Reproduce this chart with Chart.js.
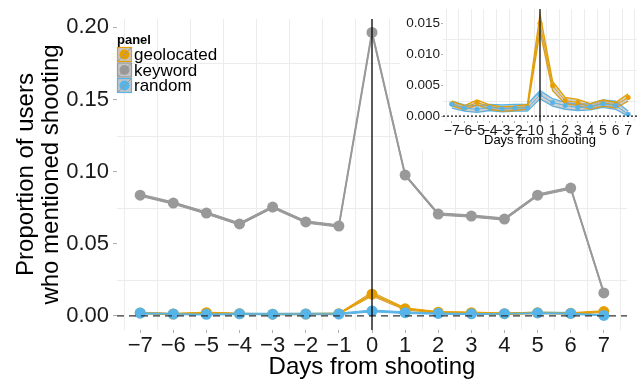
<!DOCTYPE html>
<html>
<head>
<meta charset="utf-8">
<script src="https://cdn.jsdelivr.net/npm/chart.js@4.4.0/dist/chart.umd.min.js"></script>
<style>
  html, body { margin: 0; padding: 0; background: #fff; }
  #wrap { position: relative; width: 643px; height: 383px; overflow: hidden; }
  #main { position: absolute; left: 0; top: 0; }
  #inset { position: absolute; left: 400px; top: 0; }
</style>
</head>
<body>
<div id="wrap">
  <canvas id="main" width="643" height="383"></canvas>
  <canvas id="inset" width="243" height="150"></canvas>
</div>
<script>
// Days relative to the shooting
const days = [-7, -6, -5, -4, -3, -2, -1, 0, 1, 2, 3, 4, 5, 6, 7];

// keyword panel
const keyword      = [0.0837, 0.0782, 0.0713, 0.0637, 0.0754, 0.0651, 0.0623, 0.1965, 0.0976, 0.0706, 0.0692, 0.0671, 0.0837, 0.0886, 0.0159];
const keywordUpper = [0.0845, 0.0790, 0.0721, 0.0645, 0.0762, 0.0659, 0.0631, 0.1973, 0.0984, 0.0714, 0.0700, 0.0679, 0.0845, 0.0894, 0.0167];
const keywordLower = [0.0829, 0.0774, 0.0705, 0.0629, 0.0746, 0.0643, 0.0615, 0.1957, 0.0968, 0.0698, 0.0684, 0.0663, 0.0829, 0.0878, 0.0151];

// geolocated panel
const geolocated = [0.0020, 0.0013, 0.0022, 0.0015, 0.0012, 0.0013, 0.0015, 0.0150, 0.0049, 0.0025, 0.0022, 0.0015, 0.0021, 0.0018, 0.0030];
const geoUpper   = [0.0024, 0.0017, 0.0026, 0.0018, 0.0015, 0.0016, 0.0019, 0.0165, 0.0056, 0.0030, 0.0027, 0.0020, 0.0026, 0.0022, 0.0036];
const geoLower   = [0.0017, 0.0010, 0.0018, 0.0011, 0.0008, 0.0009, 0.0011, 0.0137, 0.0041, 0.0020, 0.0017, 0.0011, 0.0016, 0.0013, 0.0024];

// random panel
const random     = [0.0019, 0.0013, 0.0011, 0.0014, 0.0012, 0.0013, 0.0013, 0.0034, 0.0022, 0.0017, 0.0014, 0.0015, 0.0020, 0.0017, 0.0003];
const randUpper  = [0.0024, 0.0018, 0.0017, 0.0019, 0.0018, 0.0019, 0.0019, 0.0041, 0.0028, 0.0022, 0.0019, 0.0020, 0.0026, 0.0024, 0.0008];
const randLower  = [0.0013, 0.0008, 0.0006, 0.0009, 0.0007, 0.0008, 0.0008, 0.0028, 0.0016, 0.0011, 0.0009, 0.0010, 0.0014, 0.0011, 0.0000];

// tick labels / minor grid
const mainYTicks  = [0, 0.05, 0.10, 0.15, 0.20];
const mainYMinor  = [0.025, 0.075, 0.125, 0.175];
const insetYTicks = [0, 0.005, 0.010, 0.015];
const insetYMinor = [0.0025, 0.0075, 0.0125];
const xMinor = [-7.5, -6.5, -5.5, -4.5, -3.5, -2.5, -1.5, -0.5, 0.5, 1.5, 2.5, 3.5, 4.5, 5.5, 6.5, 7.5];

const legendLabels = ['geolocated', 'keyword', 'random'];
const colors = { geolocated: '#E69F00', keyword: '#999999', random: '#56B4E9' };
const ribbonFill = 'rgba(153,153,153,0.45)';

Chart.defaults.font.family = "'Liberation Sans', Arial, sans-serif";
Chart.defaults.color = '#1a1a1a';

const pts = vals => vals.map((v, i) => ({ x: days[i], y: v }));
const minusLabel = v => (v < 0 ? '\u2212' + Math.abs(v) : String(v));

// ribbon (upper + lower, filled between) and line with points for one series
function seriesSets(name, mid, up, low, base, style) {
  const c = colors[name];
  return [
    { label: name + '-up', data: pts(up), borderColor: c, borderWidth: style.ribbonWidth, pointRadius: 0,
      backgroundColor: ribbonFill, fill: base + 1, order: 10 + base },
    { label: name + '-low', data: pts(low), borderColor: c, borderWidth: style.ribbonWidth, pointRadius: 0,
      fill: false, order: 10 + base },
    { label: name, data: pts(mid), borderColor: c, borderWidth: style.lineWidth, backgroundColor: c,
      pointBackgroundColor: c, pointBorderWidth: 0, pointRadius: style.pointRadius, fill: false, order: style.order }
  ];
}

const refLines = {
  id: 'refLines',
  beforeDatasetsDraw(chart, args, opts) {
    const { ctx, chartArea: a, scales: { x, y } } = chart;
    ctx.save();
    ctx.strokeStyle = '#ececec';
    ctx.lineWidth = 1;
    xMinor.forEach(v => {
      const px = Math.round(x.getPixelForValue(v)) + 0.5;
      ctx.beginPath(); ctx.moveTo(px, a.top); ctx.lineTo(px, a.bottom); ctx.stroke();
    });
    opts.yMinor.forEach(v => {
      const py = Math.round(y.getPixelForValue(v)) + 0.5;
      ctx.beginPath(); ctx.moveTo(a.left, py); ctx.lineTo(a.right, py); ctx.stroke();
    });
    ctx.restore();
  },
  afterDatasetsDraw(chart, args, opts) {
    const { ctx, chartArea: a, scales: { x, y } } = chart;
    ctx.save();
    const py = y.getPixelForValue(0);
    ctx.strokeStyle = opts.dashColor;
    ctx.lineWidth = opts.dashWidth;
    ctx.setLineDash(opts.dash);
    ctx.beginPath(); ctx.moveTo(a.left, py); ctx.lineTo(a.right, py); ctx.stroke();
    ctx.setLineDash([]);
    const px = x.getPixelForValue(0);
    ctx.strokeStyle = opts.vColor;
    ctx.lineWidth = opts.vWidth;
    ctx.beginPath(); ctx.moveTo(px, a.top); ctx.lineTo(px, a.bottom); ctx.stroke();
    ctx.restore();
  }
};

// ggplot-like legend with ribbon+line+point keys
const keyLegend = {
  id: 'keyLegend',
  afterDraw(chart) {
    const { ctx } = chart;
    ctx.save();
    ctx.fillStyle = '#000';
    ctx.textBaseline = 'middle';
    ctx.font = "bold 13px 'Liberation Sans', Arial, sans-serif";
    ctx.fillText('panel', 117, 40);
    ctx.font = "17px 'Liberation Sans', Arial, sans-serif";
    legendLabels.forEach((name, i) => {
      const x0 = 117, y0 = 47 + i * 15.5, s = 15;
      const c = colors[name];
      ctx.fillStyle = '#c4c4c4';
      ctx.fillRect(x0, y0, s, s);
      ctx.strokeStyle = c;
      ctx.lineWidth = 1.2;
      ctx.strokeRect(x0 + 0.5, y0 + 0.5, s - 1, s - 1);
      ctx.fillStyle = c;
      ctx.beginPath(); ctx.arc(x0 + s / 2, y0 + s / 2, 5, 0, Math.PI * 2); ctx.fill();
      ctx.strokeStyle = 'rgba(150,150,150,0.9)';
      ctx.lineWidth = 1;
      ctx.beginPath(); ctx.moveTo(x0 + 1, y0 + s - 1); ctx.lineTo(x0 + s - 1, y0 + 1); ctx.stroke();
      ctx.fillStyle = '#000';
      ctx.fillText(name, x0 + s + 2, y0 + s / 2 + 1);
    });
    ctx.restore();
  }
};

const whiteBg = {
  id: 'whiteBg',
  beforeDraw(chart) {
    const { ctx, width, height } = chart;
    ctx.save();
    ctx.fillStyle = '#fff';
    ctx.fillRect(0, 0, width, height);
    ctx.restore();
  }
};

// main chart
const mainStyle = { ribbonWidth: 1, lineWidth: 1.6, pointRadius: 5.5 };
new Chart(document.getElementById('main'), {
  type: 'line',
  data: {
    datasets: [
      ...seriesSets('geolocated', geolocated, geoUpper, geoLower, 0, { ...mainStyle, order: 3 }),
      ...seriesSets('keyword', keyword, keywordUpper, keywordLower, 3, { ...mainStyle, lineWidth: 2, order: 2 }),
      ...seriesSets('random', random, randUpper, randLower, 6, { ...mainStyle, order: 1 })
    ]
  },
  options: {
    responsive: false,
    animation: false,
    layout: { padding: { left: 0, top: 19, right: 16, bottom: 0 } },
    plugins: {
      legend: { display: false },
      tooltip: { enabled: false },
      refLines: { yMinor: mainYMinor, dash: [7, 5], dashColor: '#333', dashWidth: 1.4, vColor: '#000', vWidth: 1.3 }
    },
    scales: {
      x: {
        type: 'linear', min: -7.7, max: 7.7,
        afterBuildTicks: s => { s.ticks = days.map(v => ({ value: v })); },
        afterFit: s => { s.height = 53; },
        border: { display: false },
        grid: { drawOnChartArea: false, tickLength: 3, color: '#b0b0b0' },
        ticks: { autoSkip: false, maxRotation: 0, padding: 0, font: { size: 22 }, color: '#1a1a1a', callback: minusLabel },
        title: { display: true, text: 'Days from shooting', font: { size: 24, lineHeight: 1.2 }, color: '#000', padding: { top: 0, bottom: 1 } }
      },
      y: {
        min: -0.0098, max: 0.2058,
        afterBuildTicks: s => { s.ticks = mainYTicks.map(v => ({ value: v })); },
        afterFit: s => { s.width = 117; },
        border: { display: false },
        grid: { drawOnChartArea: false, tickLength: 4, color: '#b0b0b0' },
        ticks: { padding: 4, font: { size: 22 }, color: '#1a1a1a', callback: v => v.toFixed(2) },
        title: { display: true, text: ['Proportion of users', 'who mentioned shooting'], font: { size: 24, lineHeight: 1.05 }, color: '#000', padding: { top: 14, bottom: 0 } }
      }
    }
  },
  plugins: [refLines, keyLegend]
});

// inset chart (geolocated + random only)
const insetStyle = { ribbonWidth: 1.3, lineWidth: 1, pointRadius: 2.5 };
new Chart(document.getElementById('inset'), {
  type: 'line',
  data: {
    datasets: [
      ...seriesSets('geolocated', geolocated, geoUpper, geoLower, 0, { ...insetStyle, order: 2 }),
      ...seriesSets('random', random, randUpper, randLower, 3, { ...insetStyle, order: 1 })
    ]
  },
  options: {
    responsive: false,
    animation: false,
    layout: { padding: { left: 0, top: 8, right: 6, bottom: 0 } },
    plugins: {
      legend: { display: false },
      tooltip: { enabled: false },
      refLines: { yMinor: insetYMinor, dash: [2, 2], dashColor: '#111', dashWidth: 1.2, vColor: '#222', vWidth: 1.4 }
    },
    scales: {
      x: {
        type: 'linear', min: -7.7, max: 7.7,
        afterBuildTicks: s => { s.ticks = days.map(v => ({ value: v })); },
        afterFit: s => { s.height = 29; },
        border: { display: false },
        grid: { drawOnChartArea: false, tickLength: 2, color: '#b0b0b0' },
        ticks: { autoSkip: false, maxRotation: 0, padding: 0, font: { size: 14 }, color: '#1a1a1a', callback: minusLabel },
        title: { display: true, text: 'Days from shooting', font: { size: 13, lineHeight: 1.2 }, color: '#000', padding: { top: 0, bottom: 2 } }
      },
      y: {
        min: -0.0008, max: 0.0173,
        afterBuildTicks: s => { s.ticks = insetYTicks.map(v => ({ value: v })); },
        afterFit: s => { s.width = 43; },
        border: { display: false },
        grid: { drawOnChartArea: false, tickLength: 2, color: '#b0b0b0' },
        ticks: { padding: 1, font: { size: 13.5 }, color: '#1a1a1a', callback: v => v.toFixed(3) }
      }
    }
  },
  plugins: [whiteBg, refLines]
});
</script>
</body>
</html>
